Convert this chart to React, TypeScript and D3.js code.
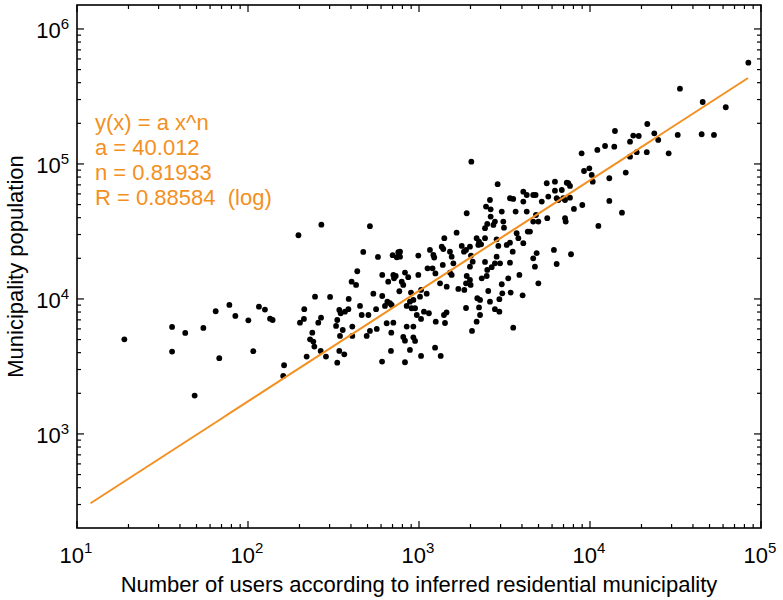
import React from "react";
import * as d3 from "d3";

// log10(number of users) for each municipality
const logUsers = [
  1.277, 1.556, 1.556, 1.633, 1.688, 1.739, 1.811, 1.832, 1.891, 1.926,
  2.002, 2.031, 2.064, 2.099, 2.129, 2.144, 2.211, 2.206, 2.295, 2.304,
  2.329, 2.327, 2.392, 2.411, 2.427, 2.376, 2.363, 2.382, 2.388, 2.343,
  2.425, 2.456, 2.429, 2.48, 2.522, 2.515, 2.534, 2.542, 2.567, 2.587,
  2.554, 2.538, 2.589, 2.606, 2.632, 2.639, 2.61, 2.61, 2.534, 2.563,
  2.522, 2.655, 2.665, 2.674, 2.694, 2.713, 2.704, 2.749, 2.753, 2.733,
  2.785, 2.785, 2.784, 2.801, 2.815, 2.83, 2.84, 2.811, 2.85, 2.836,
  2.838, 2.82, 2.85, 2.854, 2.864, 2.713, 2.76, 2.846, 2.879, 2.87,
  2.885, 2.899, 2.908, 2.918, 2.937, 2.928, 2.957, 2.977, 2.947, 2.967,
  2.953, 2.987, 3.012, 2.928, 2.967, 2.908, 2.918, 2.967, 2.977, 2.947,
  2.918, 3.012, 2.996, 3.012, 3.045, 3.006, 3.029, 3.058, 3.094, 3.127,
  3.098, 3.152, 3.146, 3.161, 3.05, 3.079, 3.096, 3.123, 3.162, 2.889,
  2.889, 2.996, 3.064, 3.084, 3.089, 3.133, 3.142, 3.139, 3.148, 3.181,
  3.191, 3.201, 3.181, 3.191, 3.22, 3.25, 3.263, 3.275, 3.298, 3.304,
  3.314, 3.298, 3.279, 3.275, 3.298, 3.302, 3.23, 3.265, 3.275, 3.31,
  3.337, 3.357, 3.351, 3.341, 3.357, 3.306, 3.279, 3.337, 3.351, 3.347,
  3.363, 3.386, 3.399, 3.386, 3.392, 3.415, 3.419, 3.419, 3.444, 3.435,
  3.454, 3.464, 3.454, 3.444, 3.474, 3.386, 3.399, 3.425, 3.46, 3.484,
  3.493, 3.497, 3.513, 3.532, 3.532, 3.367, 3.396, 3.405, 3.415, 3.444,
  3.47, 3.487, 3.47, 3.484, 3.522, 3.536, 3.551, 3.532, 3.551, 3.571,
  3.581, 3.565, 3.587, 3.548, 3.61, 3.63, 3.61, 3.63, 3.636, 3.649,
  3.61, 3.606, 3.668, 3.682, 3.684, 3.668, 3.698, 3.688, 3.668, 3.678,
  3.698, 3.718, 3.747, 3.756, 3.75, 3.789, 3.805, 3.795, 3.795, 3.805,
  3.815, 3.835, 3.844, 3.854, 3.864, 3.873, 3.883, 3.854, 3.858, 3.883,
  3.889, 3.906, 3.951, 3.965, 3.996, 4.01, 4.016, 3.955, 4.049, 4.043,
  4.088, 4.146, 4.142, 4.113, 4.113, 4.209, 4.187, 4.234, 4.253, 4.285,
  4.234, 4.273, 4.332, 4.335, 4.376, 4.399, 4.46, 4.513, 4.526, 4.653,
  4.725, 4.659, 4.794, 4.926,
];

// log10(municipality population), same order
const logPopulation = [
  3.701, 3.793, 3.61, 3.748, 3.284, 3.785, 3.909, 3.561, 3.956, 3.874,
  3.842, 3.613, 3.943, 3.921, 3.854, 3.844, 3.509, 3.43, 4.472, 3.824,
  3.924, 3.852, 4.017, 3.824, 3.861, 3.75, 3.701, 3.684, 3.647, 3.573,
  3.615, 3.573, 4.55, 4.015, 3.844, 3.8, 3.919, 3.894, 3.906, 3.924,
  3.77, 3.726, 4.0, 4.128, 4.104, 4.205, 3.795, 3.726, 3.615, 3.59,
  3.528, 3.948, 3.881, 4.348, 3.726, 3.763, 3.881, 3.924, 3.778, 4.039,
  4.178, 4.022, 3.536, 3.948, 3.98, 3.968, 3.956, 3.82, 3.824, 3.615,
  3.75, 4.128, 4.178, 4.153, 4.17, 4.539, 4.311, 4.324, 4.346, 4.309,
  4.057, 4.128, 4.104, 4.195, 4.161, 3.948, 3.931, 3.931, 3.98, 3.993,
  4.047, 3.881, 3.852, 3.795, 3.795, 3.719, 3.691, 3.716, 3.689, 3.622,
  3.531, 3.578, 4.178, 4.067, 4.039, 4.017, 3.906, 3.894, 3.639, 3.578,
  3.832, 3.822, 3.881, 3.9, 4.227, 4.227, 4.189, 4.116, 4.091, 4.35,
  4.313, 4.321, 4.363, 4.326, 4.307, 4.387, 4.37, 4.252, 4.45, 4.35,
  4.313, 4.264, 4.195, 4.178, 4.491, 4.393, 4.35, 4.363, 4.387, 4.321,
  4.276, 4.239, 4.17, 4.116, 4.141, 4.104, 4.074, 4.067, 3.933, 3.763,
  3.832, 3.881, 3.937, 4.005, 3.993, 5.017, 4.635, 4.45, 4.424, 4.4,
  4.405, 4.524, 4.556, 4.45, 4.684, 4.733, 4.664, 4.61, 4.573, 4.548,
  4.442, 4.393, 4.313, 4.264, 4.264, 4.274, 4.215, 4.235, 4.85, 4.647,
  4.573, 4.528, 4.4, 4.417, 4.269, 4.153, 4.17, 4.059, 3.98, 3.924,
  3.906, 4.042, 3.998, 4.109, 4.153, 4.047, 3.787, 4.746, 4.741, 4.487,
  4.45, 4.647, 4.178, 4.35, 4.795, 4.77, 4.721, 4.647, 4.499, 4.499,
  4.413, 4.027, 4.77, 4.77, 4.622, 4.573, 4.573, 4.339, 4.301, 4.239,
  4.116, 4.721, 4.857, 4.758, 4.598, 4.363, 4.259, 4.869, 4.802, 4.746,
  4.733, 4.807, 4.746, 4.733, 4.861, 4.857, 4.837, 4.598, 4.573, 4.75,
  4.331, 4.667, 5.079, 4.948, 4.968, 4.919, 4.869, 4.696, 4.541, 5.104,
  5.133, 5.244, 5.128, 4.894, 4.726, 4.936, 4.639, 5.165, 5.21, 5.207,
  5.054, 5.087, 5.087, 5.296, 5.227, 5.178, 5.079, 5.215, 5.558, 5.22,
  5.215, 5.459, 5.42, 5.75,
];

const xTickExponents = [1, 2, 3, 4, 5];
const yTickExponents = [3, 4, 5, 6];
const xDomain = [10, 1e5];
const yDomain = [201, 1.505e6];
const fitA = 40.012;
const fitN = 0.81933;
const fitRange = [12, 84000];
const annotationLines = [
  "y(x) = a x^n",
  "a = 40.012",
  "n = 0.81933",
  "R = 0.88584  (log)",
];
const xLabel = "Number of users according to inferred residential municipality";
const yLabel = "Municipality population";

const W = 783;
const H = 600;
const LEFT = 77;
const RIGHT = 761;
const TOP = 5;
const BOTTOM = 528;
const ORANGE = "#F39022";
const FONT = "'Liberation Sans', Arial, Helvetica, sans-serif";

export default function App() {
  const x = d3.scaleLog().domain(xDomain).range([LEFT, RIGHT]);
  const y = d3.scaleLog().domain(yDomain).range([BOTTOM, TOP]);

  const points = logUsers.map((lx, i) => ({ u: 10 ** lx, p: 10 ** logPopulation[i] }));

  const minor = (domain: number[]) => {
    const out: number[] = [];
    for (let d = -1; d <= 7; d++) {
      for (let m = 2; m <= 9; m++) {
        const v = m * 10 ** d;
        if (v > domain[0] && v < domain[1]) out.push(v);
      }
    }
    return out;
  };
  const xMinor = minor(xDomain);
  const yMinor = minor(yDomain);

  const fitXs = d3.range(0, 101).map((i) => fitRange[0] * (fitRange[1] / fitRange[0]) ** (i / 100));
  const line = d3
    .line<number>()
    .x((v) => x(v))
    .y((v) => y(fitA * v ** fitN));

  const MAJ = 7;
  const MIN = 4;

  return (
    <svg
      width={W}
      height={H}
      style={{ position: "absolute", left: 0, top: 0, background: "#fff" }}
      fontFamily={FONT}
    >
      <rect x={0} y={0} width={W} height={H} fill="#fff" />
      {/* ticks */}
      <g stroke="#000" strokeWidth={1.2}>
        {xTickExponents.map((e) => (
          <g key={"xm" + e}>
            <line x1={x(10 ** e)} x2={x(10 ** e)} y1={BOTTOM} y2={BOTTOM - MAJ} />
            <line x1={x(10 ** e)} x2={x(10 ** e)} y1={TOP} y2={TOP + MAJ} />
          </g>
        ))}
        {xMinor.map((v, i) => (
          <g key={"xn" + i}>
            <line x1={x(v)} x2={x(v)} y1={BOTTOM} y2={BOTTOM - MIN} />
            <line x1={x(v)} x2={x(v)} y1={TOP} y2={TOP + MIN} />
          </g>
        ))}
        {yTickExponents.map((e) => (
          <g key={"ym" + e}>
            <line x1={LEFT} x2={LEFT + MAJ} y1={y(10 ** e)} y2={y(10 ** e)} />
            <line x1={RIGHT} x2={RIGHT - MAJ} y1={y(10 ** e)} y2={y(10 ** e)} />
          </g>
        ))}
        {yMinor.map((v, i) => (
          <g key={"yn" + i}>
            <line x1={LEFT} x2={LEFT + MIN} y1={y(v)} y2={y(v)} />
            <line x1={RIGHT} x2={RIGHT - MIN} y1={y(v)} y2={y(v)} />
          </g>
        ))}
      </g>
      {/* points */}
      <g fill="#000">
        {points.map((d, i) => (
          <circle key={i} cx={x(d.u)} cy={y(d.p)} r={2.9} />
        ))}
      </g>
      {/* fit line */}
      <path d={line(fitXs) || ""} fill="none" stroke={ORANGE} strokeWidth={2} />
      {/* frame */}
      <rect
        x={LEFT}
        y={TOP}
        width={RIGHT - LEFT}
        height={BOTTOM - TOP}
        fill="none"
        stroke="#000"
        strokeWidth={1.6}
      />
      {/* tick labels */}
      <g fill="#000">
        {xTickExponents.map((e) => (
          <text key={"xl" + e} x={x(10 ** e) - 1} y={563} textAnchor="middle" fontSize={22}>
            10
            <tspan dy={-10} fontSize={15}>
              {e}
            </tspan>
          </text>
        ))}
        {yTickExponents.map((e) => (
          <text key={"yl" + e} x={69} y={y(10 ** e) + 9} textAnchor="end" fontSize={22}>
            10
            <tspan dy={-9} fontSize={15}>
              {e}
            </tspan>
          </text>
        ))}
      </g>
      {/* axis labels */}
      <text x={(LEFT + RIGHT) / 2} y={592} textAnchor="middle" fontSize={22} fill="#000">
        {xLabel}
      </text>
      <text
        transform={`translate(23, ${(TOP + BOTTOM) / 2}) rotate(-90)`}
        textAnchor="middle"
        fontSize={22}
        fill="#000"
      >
        {yLabel}
      </text>
      {/* annotation */}
      <g fill={ORANGE} fontSize={22}>
        {annotationLines.map((t, i) => (
          <text key={i} x={95} y={130 + i * 25} xmlSpace="preserve" style={{ whiteSpace: "pre" }}>
            {t}
          </text>
        ))}
      </g>
    </svg>
  );
}
